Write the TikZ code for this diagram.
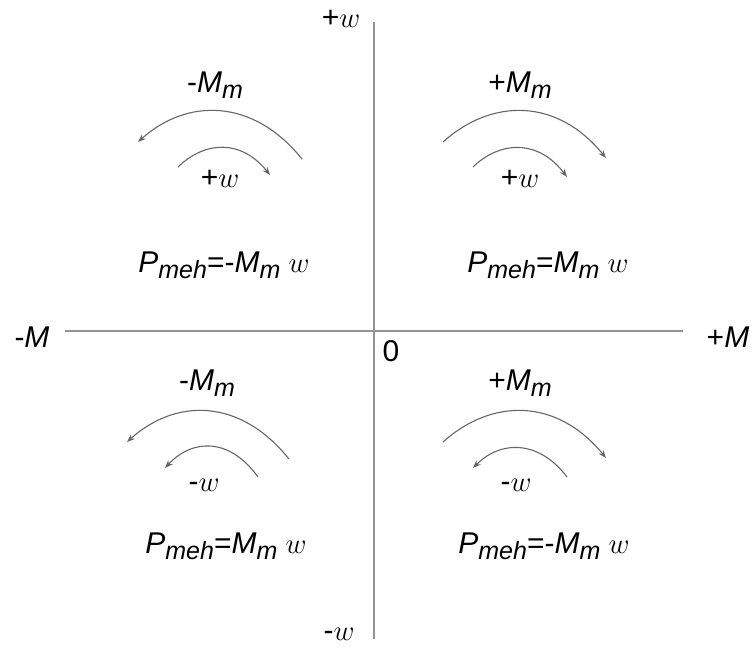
\documentclass[tikz,border=0pt]{standalone}
\usepackage{fontspec}
\setmainfont{Liberation Sans}
\usetikzlibrary{arrows.meta}
\newcommand{\lowsub}[1]{\raisebox{-0.22em}{\fontsize{12.5}{14}\selectfont\textit{#1}}}
\newcommand{\Mm}{\textit{M}\lowsub{m}}
\newcommand{\Pmeh}{\textit{P}\lowsub{meh}}
\newcommand{\om}{$w$}

\begin{document}
\begin{tikzpicture}[
    x=0.5pt, y=-0.5pt,
    >={Stealth[length=4pt,width=3pt]},
    lbl/.style={anchor=base, inner sep=0pt, font=\fontsize{15}{17}\selectfont},
    axis/.style={draw=gray!85, line width=0.8pt},
    arc/.style={->, draw=gray!80!black, line width=0.55pt}
  ]
  \useasboundingbox (0,0) rectangle (752,648);

  % axes
  \coordinate (wtop) at (374,22);
  \coordinate (wbot) at (374,639);
  \coordinate (mleft) at (65,331);
  \coordinate (mright) at (683,331);
  \draw[axis] (wtop) -- (wbot);
  \draw[axis] (mleft) -- (mright);

  \node[lbl] (lwp) at (341,27) {+\om};
  \node[lbl] (lwm) at (339,640) {-\om};
  \node[lbl] (lmm) at (32,347) {-\textit{M}};
  \node[lbl] (lmp) at (728,347) {+\textit{M}};
  \node[lbl] (zero) at (391,362) {0};

  % quadrant I
  \node[lbl] (mTR) at (520,92) {+\Mm};
  \node[lbl] (wTR) at (520,188) {+\om};
  \node[lbl] (pTR) at (548,272) {\Pmeh=\Mm\ \om};
  \draw[arc] (443,142) .. controls (492,98) and (557,98) .. (606,158);
  \draw[arc] (473,167) .. controls (501,140) and (539,140) .. (567,177);

  % quadrant II
  \node[lbl] (mTL) at (215,92) {-\Mm};
  \node[lbl] (wTL) at (220,188) {+\om};
  \node[lbl] (pTL) at (224,272) {\Pmeh=-\Mm\ \om};
  \draw[arc] (302,159) .. controls (253,98) and (187,98) .. (138,142);
  \draw[arc] (178,167) .. controls (206,140) and (242,140) .. (270,175);

  % quadrant III
  \node[lbl] (mBL) at (207,390) {-\Mm};
  \node[lbl] (wBL) at (204,492) {-\om};
  \node[lbl] (pBL) at (226,553) {\Pmeh=\Mm\ \om};
  \draw[arc] (289,459) .. controls (240,398) and (176,398) .. (127,442);
  \draw[arc] (258,477) .. controls (230,438) and (193,438) .. (165,468);

  % quadrant IV
  \node[lbl] (mBR) at (520,390) {+\Mm};
  \node[lbl] (wBR) at (516,492) {-\om};
  \node[lbl] (pBR) at (544,553) {\Pmeh=-\Mm\ \om};
  \draw[arc] (443,442) .. controls (492,398) and (557,398) .. (606,458);
  \draw[arc] (567,477) .. controls (539,440) and (501,440) .. (473,468);
\end{tikzpicture}
\end{document}
